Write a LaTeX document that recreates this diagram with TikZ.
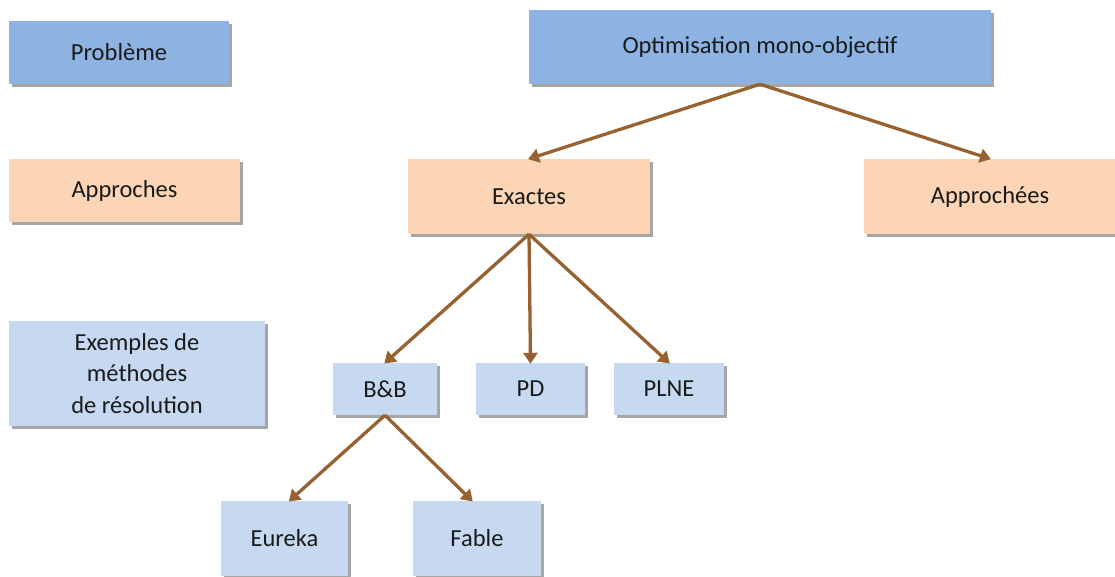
\documentclass[tikz,border=0pt]{standalone}
\usepackage{fontspec}
\setmainfont{Carlito}
\usetikzlibrary{shadows,arrows.meta}
\definecolor{hdrblue}{HTML}{8DB3E2}
\definecolor{peach}{HTML}{FBD5B5}
\definecolor{lblue}{HTML}{C6D9F1}
\definecolor{arrbrown}{HTML}{976230}
\definecolor{txt}{HTML}{1A1A1A}
\tikzset{
  box/.style={rectangle, inner sep=0pt, text=txt, align=center,
    font=\fontsize{24.5}{31.5}\selectfont,
    drop shadow={shadow xshift=2.5pt, shadow yshift=-3pt, fill=black, opacity=0.35}},
  hbox/.style={box, fill=hdrblue},
  pbox/.style={box, fill=peach},
  lbox/.style={box, fill=lblue},
  arr/.style={draw=arrbrown, line width=3.3pt, -{Triangle[width=14pt,length=11pt]}, shorten >=-1pt}
}
\begin{document}
\begin{tikzpicture}[x=1pt,y=-1pt]
\clip (0,0) rectangle (1115,576);
\fill[white] (0,0) rectangle (1115,576);
% left column
\node[hbox, minimum width=220pt, minimum height=63pt] (prob) at (119,52.5) {Problème};
\node[pbox, minimum width=231pt, minimum height=63pt] (appr) at (124.5,190.5) {Approches};
\node[lbox, minimum width=256pt, minimum height=105pt] (ex) at (137,373.5) {Exemples de\\méthodes\\de résolution};
% tree
\node[hbox, minimum width=462pt, minimum height=74pt] (opt) at (760,47) {Optimisation mono-objectif};
\node[pbox, minimum width=242pt, minimum height=75pt] (exa) at (529,196.5) {Exactes};
\node[pbox, minimum width=252pt, minimum height=75pt] (apc) at (990,196.5) {Approchées};
\node[lbox, minimum width=104pt, minimum height=52pt] (bb) at (385,389) {B\&B};
\node[lbox, minimum width=109pt, minimum height=52pt] (pd) at (530.5,389) {PD};
\node[lbox, minimum width=110pt, minimum height=52pt] (plne) at (669,389) {PLNE};
\node[lbox, minimum width=127pt, minimum height=75pt] (eur) at (284.5,538.5) {Eureka};
\node[lbox, minimum width=128pt, minimum height=75pt] (fab) at (477,538.5) {Fable};
% arrows
\draw[arr] (opt.south) -- (exa.north);
\draw[arr] (opt.south) -- (apc.north);
\draw[arr] (exa.south) -- (bb.north);
\draw[arr] (exa.south) -- (pd.north);
\draw[arr] (exa.south) -- (plne.north);
\draw[arr] (bb.south) -- ([xshift=5pt]eur.north);
\draw[arr] (bb.south) -- ([xshift=-5pt]fab.north);
\end{tikzpicture}
\end{document}
